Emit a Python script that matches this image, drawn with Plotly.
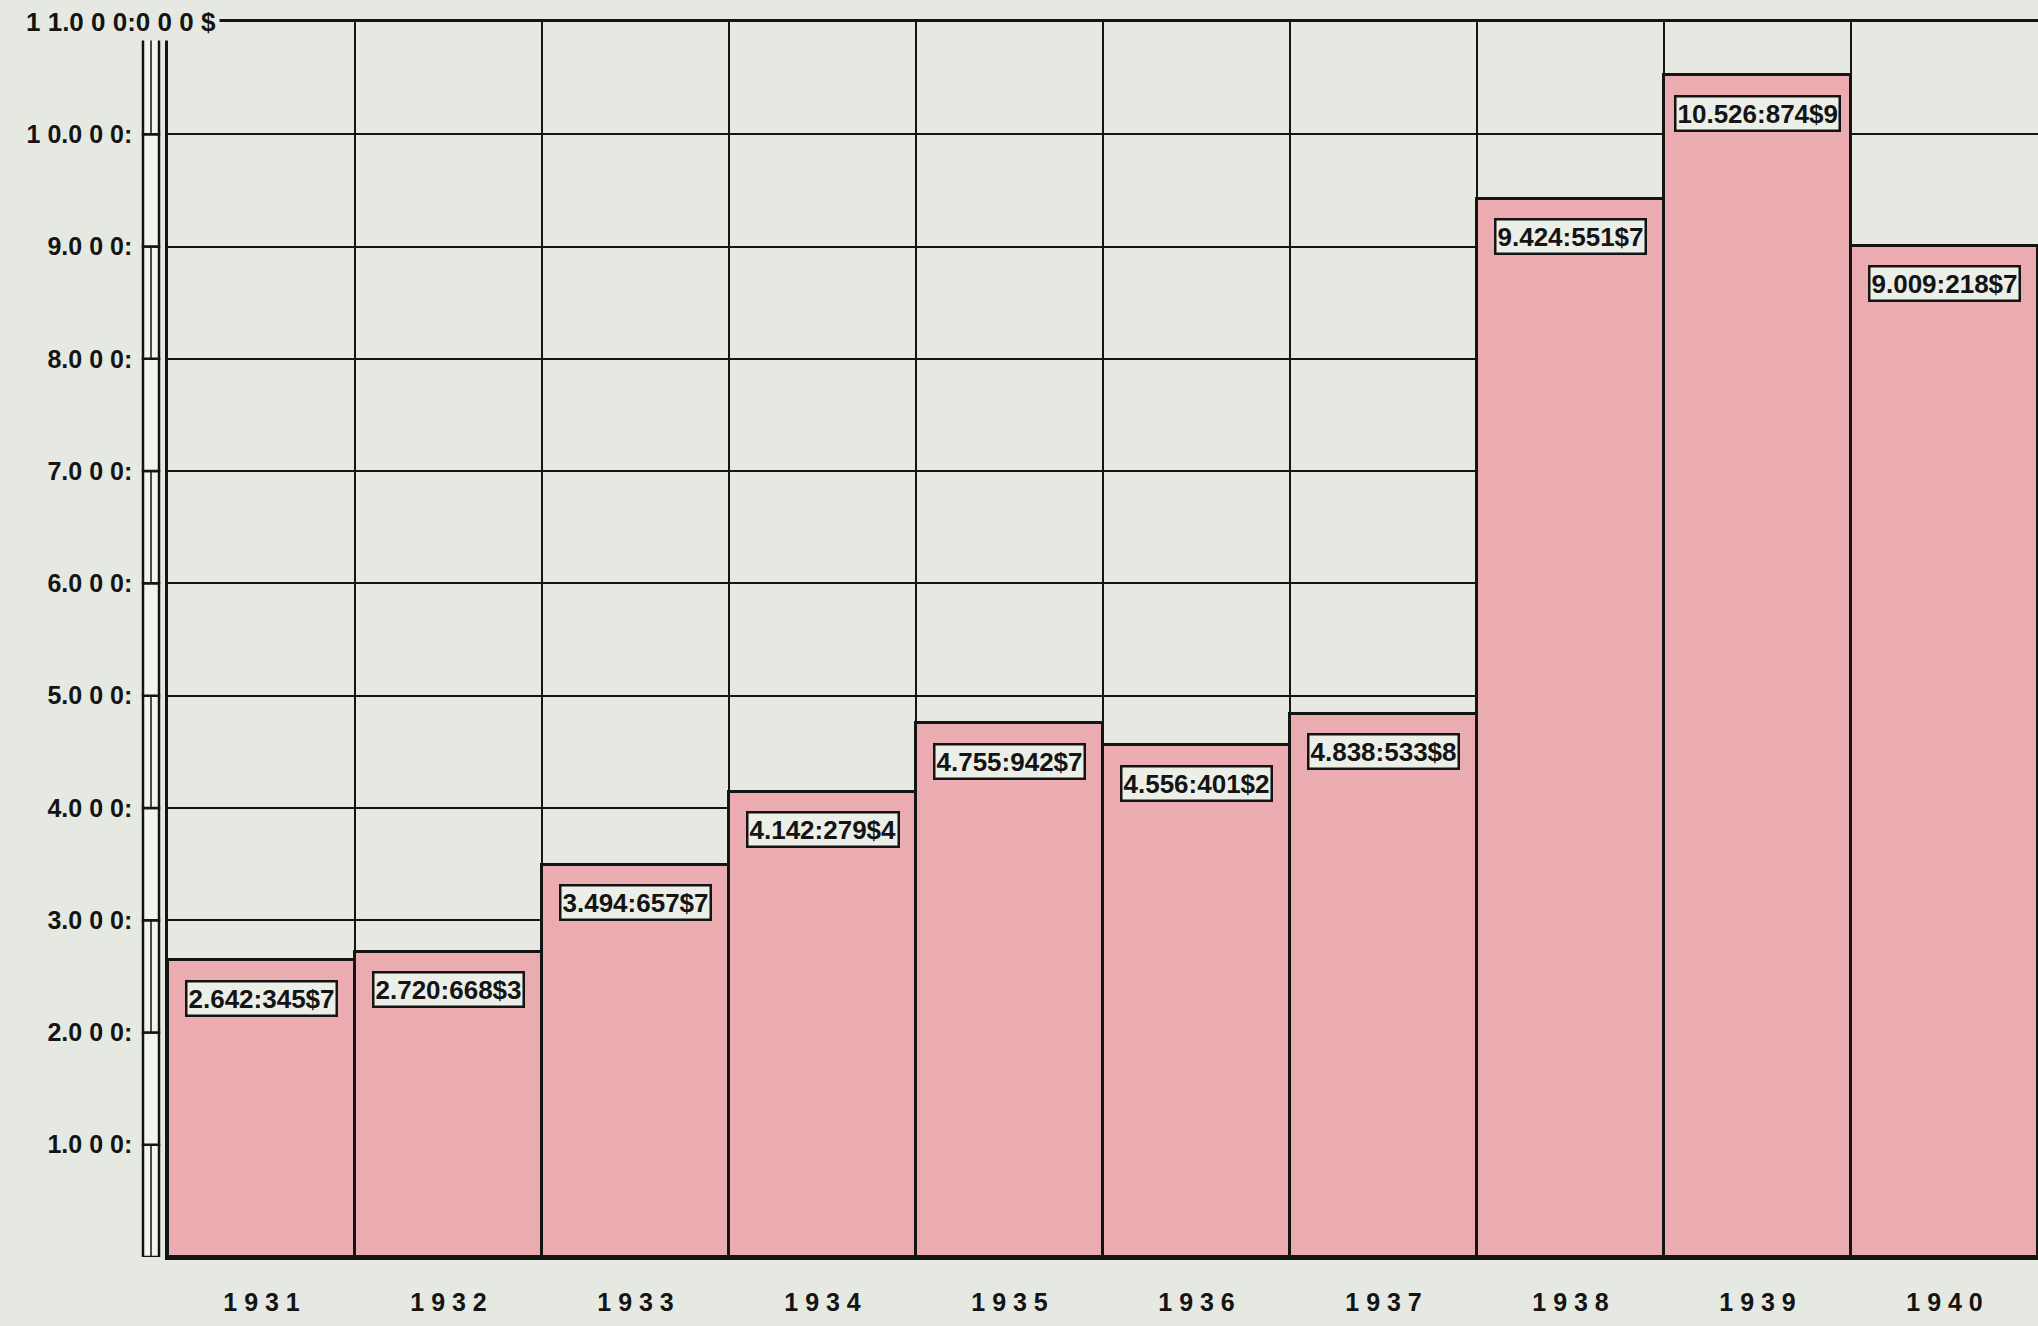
import plotly.graph_objects as go

# ---- data (escudos) ----
years = ["1931", "1932", "1933", "1934", "1935", "1936", "1937", "1938", "1939", "1940"]
values = [2642345.7, 2720668.3, 3494657.7, 4142279.4, 4755942.7,
          4556401.2, 4838533.8, 9424551.7, 10526874.9, 9009218.7]
value_labels = ["2.642:345$7", "2.720:668$3", "3.494:657$7", "4.142:279$4", "4.755:942$7",
                "4.556:401$2", "4.838:533$8", "9.424:551$7", "10.526:874$9", "9.009:218$7"]
year_labels = ["1 9 3 1", "1 9 3 2", "1 9 3 3", "1 9 3 4", "1 9 3 5",
               "1 9 3 6", "1 9 3 7", "1 9 3 8", "1 9 3 9", "1 9 4 0"]
y_ticks = [1000000, 2000000, 3000000, 4000000, 5000000, 6000000,
           7000000, 8000000, 9000000, 10000000, 11000000]
y_tick_labels = ["1.0 0 0:", "2.0 0 0:", "3.0 0 0:", "4.0 0 0:", "5.0 0 0:", "6.0 0 0:",
                 "7.0 0 0:", "8.0 0 0:", "9.0 0 0:", "1 0.0 0 0:", ""]
top_label = "1 1.0 0 0:0 0 0 $"

PAPER = "#e5e9e1"
PINK = "#eaabb1"
INK = "#141414"
FONT = "Liberation Sans, Arial"
W, H = 2038, 1326
ML, MR, MT, MB = 168, 0, 22, 69
PW = W - ML - MR

xs = list(range(len(years)))
boundaries = [i + 0.5 for i in xs[:-1]]

fig = go.Figure()
fig.add_trace(go.Bar(
    x=xs, y=values, width=1.0,
    marker=dict(color=PINK, line=dict(color=INK, width=3)),
    hoverinfo="skip",
))

# value boxes at the top of each bar
for xi, v, lab in zip(xs, values, value_labels):
    fig.add_annotation(
        x=xi, y=v, xref="x", yref="y", yshift=-38,
        text="<b>" + lab + "</b>", showarrow=False,
        font=dict(family=FONT, size=26, color=INK),
        bgcolor="#eceee8", bordercolor=INK, borderwidth=2.5, borderpad=1,
        xanchor="center", yanchor="middle",
    )

# top label of the scale
fig.add_annotation(
    x=(220 - ML) / PW, y=y_ticks[-1], xref="paper", yref="y",
    text="<b>" + top_label + "</b>", showarrow=False,
    font=dict(family=FONT, size=26, color=INK),
    bgcolor=PAPER, borderpad=3, xanchor="right", yanchor="middle",
)

# decorative scale strip left of the axis
sx0, sx1 = (143 - ML) / PW, (159 - ML) / PW
sxm = (sx0 + sx1) / 2
lower = [0] + y_ticks[:-1]
for k, (a, b) in enumerate(zip(lower, y_ticks)):
    fig.add_shape(type="rect", xref="paper", yref="y", x0=sx0, x1=sx1, y0=a, y1=b,
                  line=dict(color=INK, width=2.5), fillcolor="#f3f4ef", layer="above")
    if k % 2 == 0:
        fig.add_shape(type="line", xref="paper", yref="y", x0=sxm, x1=sxm, y0=a, y1=b,
                      line=dict(color=INK, width=1.5), layer="above")

fig.update_layout(
    width=W, height=H,
    margin=dict(l=ML, r=MR, t=MT, b=MB, autoexpand=False),
    paper_bgcolor=PAPER, plot_bgcolor=PAPER,
    showlegend=False, bargap=0,
    xaxis=dict(
        range=[-0.5, len(years) - 0.5], automargin=False,
        tickmode="array", tickvals=xs, ticktext=["<b>" + t + "</b>" for t in year_labels],
        tickfont=dict(family=FONT, size=25, color=INK),
        showgrid=False, zeroline=False, ticks="", ticklabelstandoff=21,
        showline=True, linecolor=INK, linewidth=2.5, mirror=True,
        minor=dict(tickmode="array", tickvals=boundaries, showgrid=True,
                   gridcolor=INK, gridwidth=2, ticks=""),
        fixedrange=True,
    ),
    yaxis=dict(
        range=[0, y_ticks[-1]], automargin=False,
        tickmode="array", tickvals=y_ticks, ticktext=["<b>" + t + "</b>" for t in y_tick_labels],
        tickfont=dict(family=FONT, size=25, color=INK),
        showgrid=True, gridcolor=INK, gridwidth=2,
        zeroline=False, ticks="", ticklabelstandoff=28,
        showline=True, linecolor=INK, linewidth=2.5,
        fixedrange=True,
    ),
)

fig.write_html(
    "out.html",
    config={"displayModeBar": False},
    post_script="document.body.style.margin='0';document.body.style.overflow='hidden';",
)
